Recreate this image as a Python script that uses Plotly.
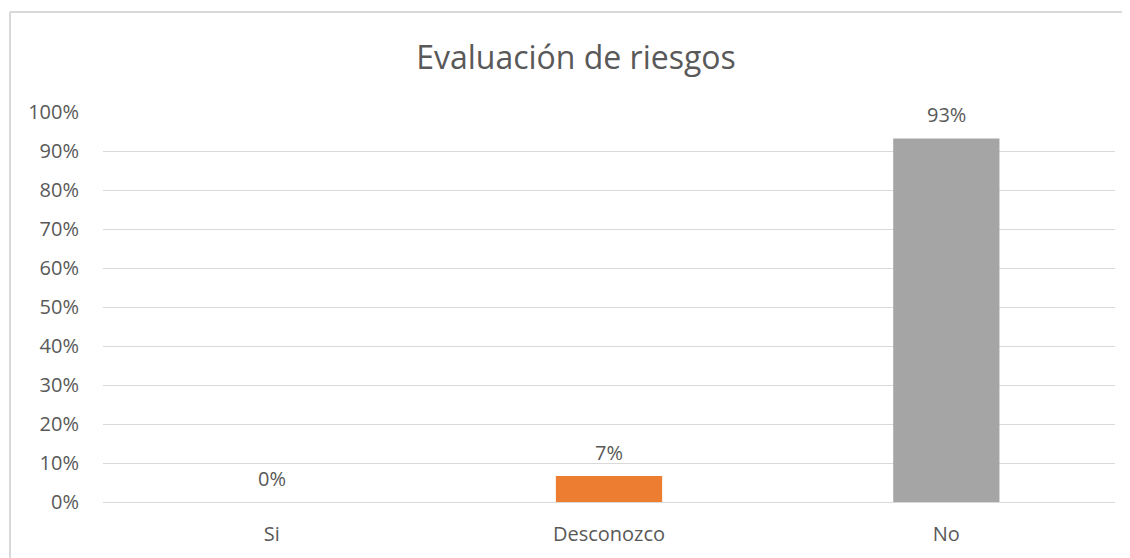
import plotly.graph_objects as go

# ─── Data ────────────────────────────────────────────────────────────────────
categories = ['Si', 'Desconozco', 'No']
values = [0.0, 0.0667, 0.9333]
bar_colors = ['#4472C4', '#ED7D31', '#A5A5A5']
tick_vals = [i / 10 for i in range(11)]

TEXT = '#595959'
GRID = '#D9D9D9'
FONT = 'Open Sans, sans-serif'

# page body has an 8px margin, so the figure is sized/offset to compensate
W, H = 1122, 550
L, R, T, B = 95, 15, 104, 56
pw = W - L - R
ph = H - T - B

fig = go.Figure(go.Bar(
    x=categories,
    y=values,
    marker=dict(color=bar_colors, line=dict(width=0)),
    hoverinfo='x+y',
))

# value labels above each bar
for cat, val in zip(categories, values):
    fig.add_annotation(
        x=cat, y=val, text=f"{val:.0%}",
        showarrow=False, yanchor='middle', yshift=24,
        font=dict(size=20, color=TEXT, family=FONT),
    )

# chart border (left + top only visible in reference)
bx = (2 - L) / pw
by = (H - 4 - B) / ph
fig.add_shape(
    type='line', xref='paper', yref='paper',
    x0=bx, x1=bx, y0=-0.5, y1=by,
    line=dict(color=GRID, width=2),
)
fig.add_shape(
    type='line', xref='paper', yref='paper',
    x0=bx, x1=(W + 5 - L) / pw, y0=by, y1=by,
    line=dict(color=GRID, width=2),
)

fig.update_layout(
    width=W, height=H,
    paper_bgcolor='white',
    plot_bgcolor='white',
    font=dict(family=FONT, color=TEXT),
    margin=dict(l=L, r=R, t=T, b=B),
    bargap=0.685,
    showlegend=False,
    title=dict(
        text='Evaluación de riesgos',
        font=dict(size=32, color=TEXT, family=FONT),
        x=568 / W, xanchor='center',
        y=1 - 50 / H, yanchor='middle',
    ),
    xaxis=dict(
        showgrid=False,
        showline=False,
        ticks='',
        ticklabelstandoff=18,
        tickfont=dict(size=20, color=TEXT),
    ),
    yaxis=dict(
        range=[0, 1.001],
        tickvals=tick_vals,
        tickformat='.0%',
        showgrid=True,
        gridcolor=GRID,
        gridwidth=1,
        zeroline=True,
        zerolinecolor=GRID,
        zerolinewidth=1,
        showline=False,
        ticks='',
        ticklabelstandoff=23,
        tickfont=dict(size=20, color=TEXT),
    ),
)

fig.write_html("out.html")
